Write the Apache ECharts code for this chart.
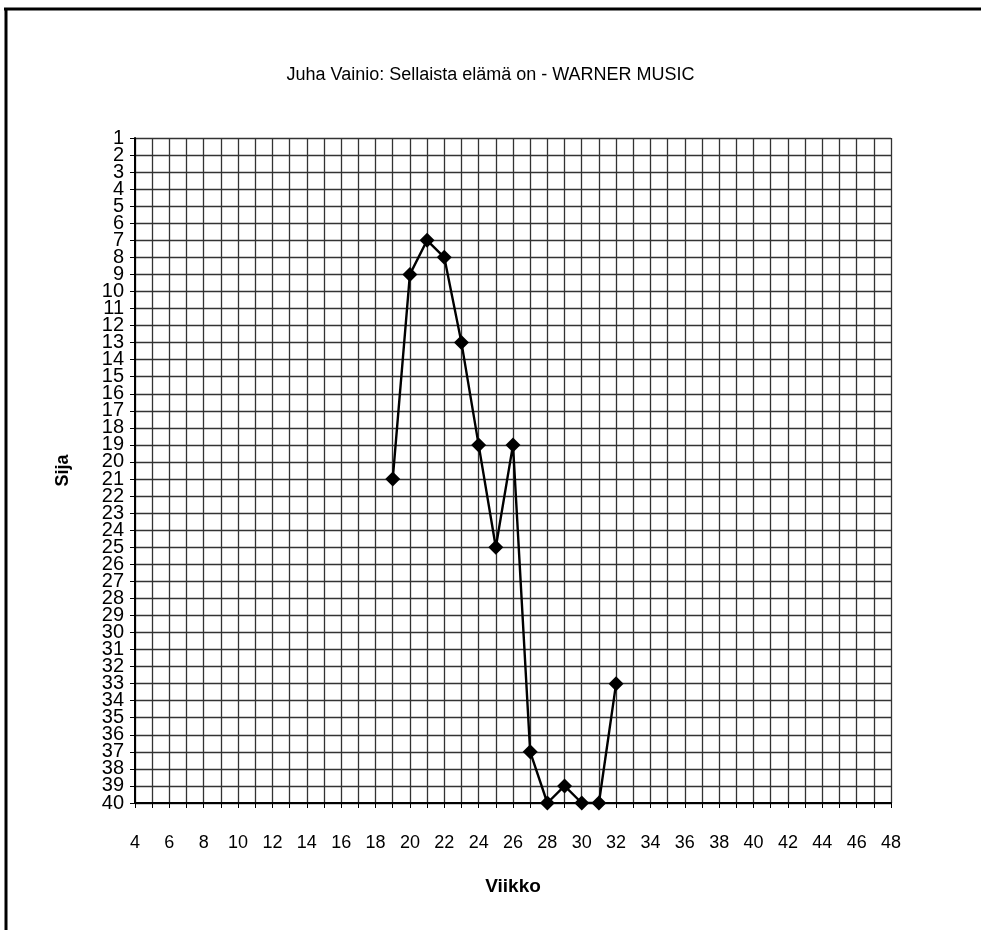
<!DOCTYPE html>
<html>
<head>
<meta charset="utf-8">
<script src="https://cdn.jsdelivr.net/npm/echarts@6/dist/echarts.min.js"></script>
<style>html,body{margin:0;padding:0;background:#fff}#c{width:981px;height:930px}</style>
</head>
<body>
<div id="c"></div>
<script>
const titleText = 'Juha Vainio: Sellaista elämä on - WARNER MUSIC';
const xName = 'Viikko';
const yName = 'Sija';
const weeks = [19, 20, 21, 22, 23, 24, 25, 26, 27, 28, 29, 30, 31, 32];
const ranks = [21, 9, 7, 8, 13, 19, 25, 19, 37, 40, 39, 40, 40, 33];
const yLabels = ['1','2','3','4','5','6','7','8','9','10','11','12','13','14','15','16','17','18','19','20',
                 '21','22','23','24','25','26','27','28','29','30','31','32','33','34','35','36','37','38','39','40'];
const xMin = 4, xMax = 48;

const chart = echarts.init(document.getElementById('c'));
const font = 'Liberation Sans, Arial, sans-serif';
chart.setOption({
  animation: false,
  backgroundColor: '#fff',
  title: {
    text: titleText, left: 'center', top: 61,
    textStyle: { fontFamily: font, fontSize: 18, fontWeight: 'normal', color: '#000' }
  },
  graphic: [
    { type: 'line', shape: { x1: 4, y1: 9, x2: 981, y2: 9 }, style: { stroke: '#000', lineWidth: 3 } },
    { type: 'line', shape: { x1: 6, y1: 8, x2: 6, y2: 930 }, style: { stroke: '#000', lineWidth: 3 } }
  ],
  grid: { left: 135, right: 90, top: 138, bottom: 127 },
  xAxis: {
    type: 'value', min: xMin, max: xMax, interval: 1,
    name: xName, nameLocation: 'middle', nameGap: 74,
    nameTextStyle: { fontFamily: font, fontSize: 19, fontWeight: 'bold', color: '#000' },
    axisLine: { show: true, onZero: false, lineStyle: { color: '#000', width: 2 } },
    axisTick: { show: true, length: 5, lineStyle: { color: '#000' } },
    axisLabel: {
      color: '#000', fontFamily: font, fontSize: 18, margin: 31,
      showMinLabel: true, showMaxLabel: true, hideOverlap: false,
      formatter: v => (v % 2 === 0 ? String(v) : '')
    },
    splitLine: { show: true, lineStyle: { color: '#333', width: 1.3 } }
  },
  yAxis: {
    type: 'category', data: yLabels, inverse: true, boundaryGap: false,
    name: yName, nameLocation: 'middle', nameGap: 63, nameRotate: 90,
    nameTextStyle: { fontFamily: font, fontSize: 18, fontWeight: 'bold', color: '#000' },
    axisLine: { show: true, onZero: false, lineStyle: { color: '#000', width: 2 } },
    axisTick: { show: true, length: 5, interval: 0, lineStyle: { color: '#000' } },
    axisLabel: {
      color: '#000', fontFamily: font, fontSize: 20, margin: 11, interval: 0, hideOverlap: false
    },
    splitLine: { show: true, interval: 0, lineStyle: { color: '#333', width: 1.3 } }
  },
  series: [{
    type: 'line',
    data: weeks.map((w, i) => [w, String(ranks[i])]),
    symbol: 'diamond', symbolSize: 15,
    lineStyle: { color: '#000', width: 2.4 },
    itemStyle: { color: '#000' },
    z: 5
  }]
});
</script>
</body>
</html>
